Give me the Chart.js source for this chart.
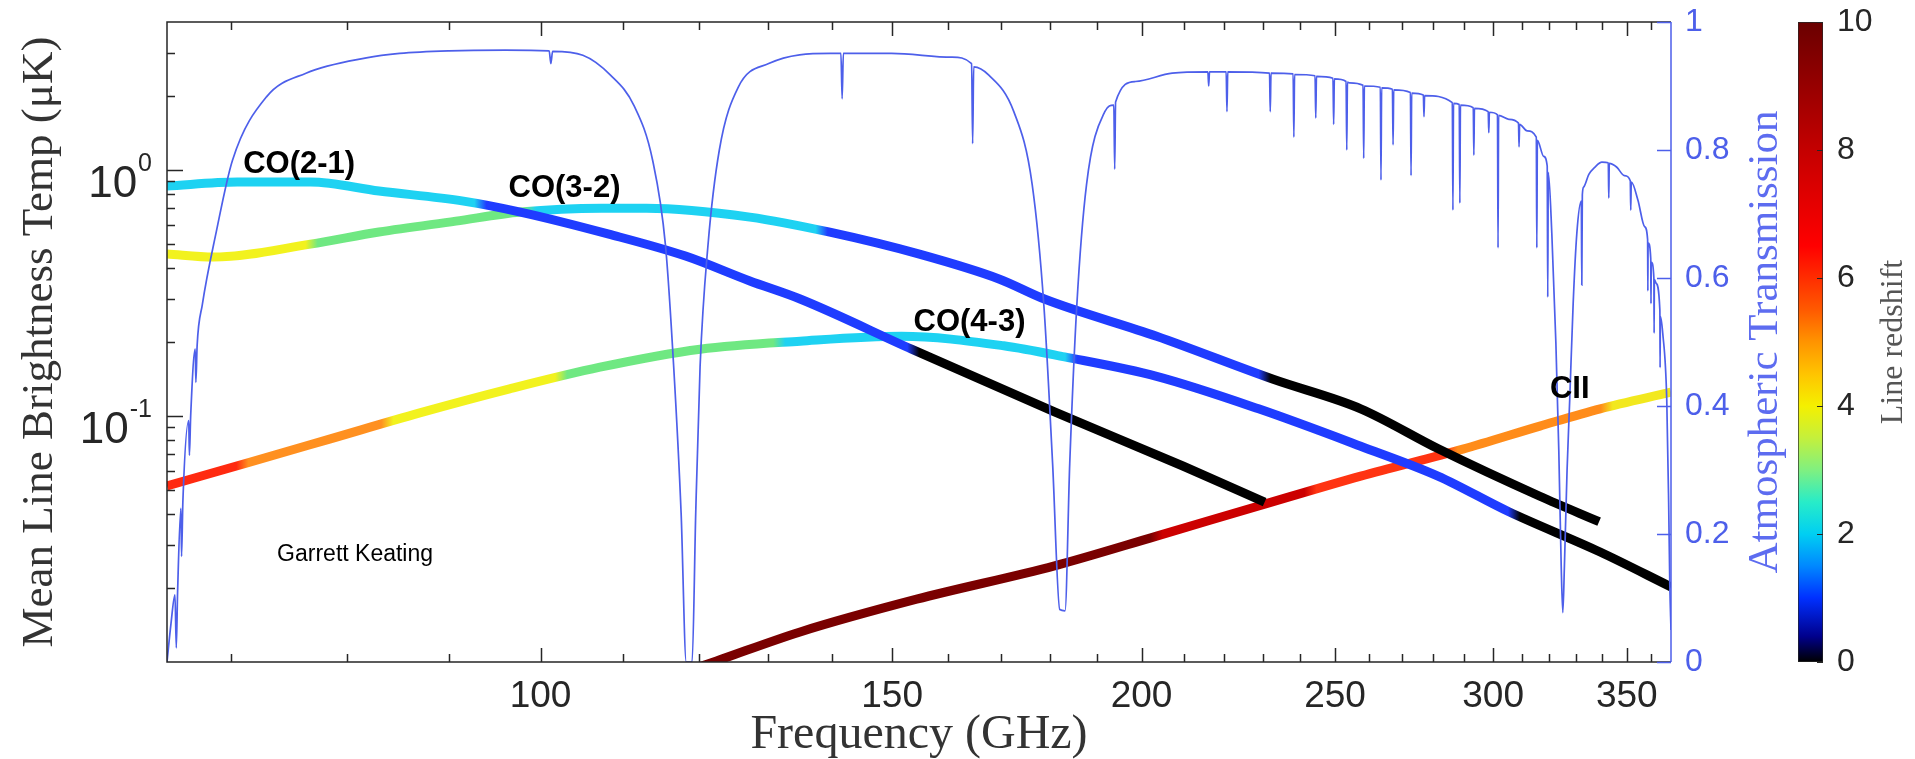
<!DOCTYPE html>
<html>
<head>
<meta charset="utf-8">
<script src="https://cdn.jsdelivr.net/npm/chart.js@4.4.1/dist/chart.umd.min.js"></script>
<style>
  html, body { margin: 0; padding: 0; background: #fff; overflow: hidden; }
  #wrap { position: relative; width: 1915px; height: 759px; }
  #main { position: absolute; left: 0; top: 0; }
  #cbar { position: absolute; left: 1760px; top: 0; }
</style>
</head>
<body>
<div id="wrap">
  <canvas id="main" width="1915" height="759"></canvas>
  <canvas id="cbar" width="155" height="759"></canvas>
</div>
<script>
// line brightness temperature (uK) against observed frequency (GHz)
const co21Freq = [65.0, 70.5, 76.7, 83.0, 91.5, 97.7, 108.2, 118.2, 127.3, 134.9, 153.4, 180.9, 209.9, 230.5];
const co21Temp = [0.861, 0.894, 0.894, 0.822, 0.748, 0.675, 0.549, 0.447, 0.354, 0.299, 0.187, 0.104, 0.0625, 0.0447];

const co32Freq = [65.0, 68.6, 76.7, 83.0, 90.7, 97.7, 107.3, 113.0, 127.3, 139.6, 154.8, 169.8, 178.8, 203.5, 232.8, 257.5, 281.6, 316.6, 339.0];
const co32Temp = [0.456, 0.443, 0.500, 0.560, 0.620, 0.675, 0.700, 0.700, 0.644, 0.559, 0.455, 0.360, 0.299, 0.211, 0.141, 0.107, 0.0736, 0.0472, 0.0372];

const co43Freq = [65.0, 71.5, 78.4, 87.0, 96.5, 107.1, 120.2, 134.9, 151.6, 170.6, 183.0, 203.5, 228.9, 257.5, 281.5, 305.5, 339.4, 368.3];
const co43Temp = [0.0520, 0.0649, 0.0806, 0.103, 0.129, 0.158, 0.187, 0.2016, 0.211, 0.193, 0.174, 0.145, 0.107, 0.0754, 0.0570, 0.0408, 0.0280, 0.0202];

const ciiFreq = [118.0, 122.5, 134.9, 154.3, 180.9, 203.5, 228.9, 257.5, 289.7, 316.6, 339.4, 368.3];
const ciiTemp = [0.0091, 0.0101, 0.01325, 0.0180, 0.0246, 0.0325, 0.0431, 0.0570, 0.0734, 0.091, 0.107, 0.125];

// colour bands along each line (redshift bins), break frequencies in GHz
const co21Breaks = [93.3, 153.7];
const co21Colors = ['#1ed2f2', '#1f3cff', '#000000'];
const co32Breaks = [76.8, 98.8, 138.3, 230.5];
const co32Colors = ['#f2f21e', '#6fe882', '#1ed2f2', '#1f3cff', '#000000'];
const co43Breaks = [70.9, 83.8, 102.4, 131.7, 184.4, 307.3];
const co43Colors = ['#ff2a10', '#ff9020', '#f2f21e', '#6fe882', '#1ed2f2', '#1f3cff', '#000000'];
const ciiBreaks = [203.5, 243.0, 286.0, 342.0];
const ciiColors = ['#7a0000', '#cc0000', '#ff3412', '#ff8c1a', '#f2e81e'];

// atmospheric transmission
const transFreq = [65.0, 65.3, 65.6, 65.7, 65.8, 66.05, 66.1, 66.2, 66.65, 66.7, 66.8, 67.15, 67.2, 67.3, 67.7, 68.8, 70.1, 72.9, 76.3, 81.8, 85.0, 90.0, 96.0, 101.0, 101.2, 101.4, 105.0, 108.4, 111.4, 113.8, 115.5, 116.6, 117.6, 118.3, 119.1, 119.6, 120.2, 121.3, 122.9, 125.6, 130.1, 139.7, 141.4, 141.6, 141.8, 149.9, 160.7, 164.4, 164.6, 164.8, 167.7, 172.6, 176.3, 178.7, 180.5, 182.0, 183.1, 184.1, 185.6, 187.7, 191.7, 193.7, 193.9, 194.1, 198.6, 207.2, 215.9, 216.1, 216.3, 220.5, 220.7, 220.9, 231.8, 232.0, 232.2, 238.2, 238.4, 238.6, 244.3, 244.5, 244.7, 249.4, 249.6, 249.8, 253.2, 253.4, 253.6, 254.2, 258.2, 258.4, 258.6, 263.4, 263.6, 263.8, 267.1, 267.3, 267.5, 272.7, 272.9, 273.1, 276.8, 277.0, 277.2, 286.2, 286.4, 286.6, 288.5, 288.7, 288.9, 293.2, 293.4, 293.6, 298.3, 298.5, 298.7, 301.5, 301.7, 301.9, 305.5, 308.9, 309.1, 309.3, 312.0, 315.3, 315.5, 315.7, 318.0, 319.3, 319.5, 319.7, 321.0, 322.5, 323.6, 324.5, 325.1, 325.7, 326.7, 327.7, 329.0, 330.4, 332.1, 332.3, 332.5, 333.0, 335.0, 337.3, 340.1, 342.6, 342.8, 343.0, 346.0, 349.0, 351.4, 351.6, 351.8, 354.5, 357.3, 358.5, 358.6, 358.7, 359.8, 359.9, 360.0, 361.1, 361.2, 361.3, 362.0, 363.6, 363.7, 363.8, 364.8, 366.5, 367.3, 367.8, 368.3];
const transVal = [0.0, 0.06, 0.105, 0.022, 0.11, 0.24, 0.165, 0.25, 0.377, 0.323, 0.385, 0.489, 0.437, 0.495, 0.558, 0.672, 0.784, 0.883, 0.920, 0.944, 0.951, 0.955, 0.956, 0.955, 0.935, 0.954, 0.948, 0.917, 0.869, 0.784, 0.651, 0.461, 0.233, 0.0, 0.0, 0.233, 0.461, 0.651, 0.80, 0.898, 0.935, 0.951, 0.951, 0.88, 0.951, 0.951, 0.945, 0.935, 0.81, 0.93, 0.917, 0.86, 0.746, 0.556, 0.31, 0.082, 0.08, 0.31, 0.556, 0.746, 0.86, 0.87, 0.77, 0.875, 0.907, 0.92, 0.922, 0.90, 0.922, 0.922, 0.86, 0.922, 0.92, 0.86, 0.92, 0.919, 0.82, 0.918, 0.916, 0.85, 0.915, 0.912, 0.84, 0.911, 0.907, 0.80, 0.906, 0.905, 0.901, 0.787, 0.900, 0.898, 0.753, 0.897, 0.895, 0.808, 0.894, 0.89, 0.76, 0.889, 0.886, 0.852, 0.885, 0.874, 0.706, 0.873, 0.871, 0.717, 0.870, 0.866, 0.792, 0.865, 0.860, 0.827, 0.859, 0.855, 0.647, 0.854, 0.848, 0.842, 0.805, 0.840, 0.830, 0.820, 0.647, 0.815, 0.79, 0.775, 0.57, 0.765, 0.67, 0.50, 0.33, 0.15, 0.077, 0.15, 0.30, 0.41, 0.56, 0.67, 0.72, 0.589, 0.73, 0.742, 0.762, 0.773, 0.781, 0.78, 0.725, 0.779, 0.773, 0.76, 0.752, 0.706, 0.75, 0.722, 0.68, 0.66, 0.58, 0.655, 0.63, 0.56, 0.625, 0.60, 0.514, 0.598, 0.592, 0.55, 0.46, 0.54, 0.514, 0.41, 0.25, 0.12, 0.05];

// axis ticks
const xTickValues = [70, 80, 90, 100, 110, 120, 130, 140, 150, 160, 170, 180, 190, 200, 210, 220, 230, 240, 250, 260, 270, 280, 290, 300, 310, 320, 330, 340, 350, 360];
const xLabelValues = [100, 150, 200, 250, 300, 350];
const yTickValues = [0.02, 0.03, 0.04, 0.05, 0.06, 0.07, 0.08, 0.09, 0.1, 0.2, 0.3, 0.4, 0.5, 0.6, 0.7, 0.8, 0.9, 1, 2, 3];
const yLabelValues = [0.1, 1];
const yLabelExp = ['-1', '0'];
const transTicks = [0, 0.2, 0.4, 0.6, 0.8, 1];
const zTicks = [0, 2, 4, 6, 8, 10];

// colour bar (redshift colour map)
const cmapZ = [0, 0.4, 1, 1.5, 2, 2.5, 3, 3.5, 4, 4.5, 5, 5.5, 6.5, 8, 10];
const cmapColors = ['#000000', '#00008c', '#0030ff', '#0088ff', '#00cff2', '#28ecc8', '#80f080', '#c4f03c', '#f4f000', '#ffc400', '#ff9400', '#ff5a00', '#ff0000', '#c40000', '#6a0000'];

// annotations
const noteText = ['CO(2-1)', 'CO(3-2)', 'CO(4-3)', 'CII'];
const noteFreq = [75.7, 102.8, 164.0, 327.7];
const noteTemp = [1.058, 0.845, 0.24, 0.128];

const SANS = "'Liberation Sans', Arial, Helvetica, sans-serif";
const SERIF = "'Liberation Serif', 'Times New Roman', serif";
const INK = '#262626';
const BLUE = '#4d5fea';

function pts(xs, ys) {
  return xs.map((x, i) => ({ x: x, y: ys[i] }));
}

function bandGradient(chart, breaks, colors) {
  const area = chart.chartArea;
  if (!area) return colors[0];
  const xs = chart.scales.x;
  const w = area.right - area.left;
  const g = chart.ctx.createLinearGradient(area.left, 0, area.right, 0);
  const clamp = (f) => Math.min(1, Math.max(0, f));
  g.addColorStop(0, colors[0]);
  breaks.forEach((b, i) => {
    const f = (xs.getPixelForValue(b) - area.left) / w;
    g.addColorStop(clamp(f - 0.004), colors[i]);
    g.addColorStop(clamp(f + 0.004), colors[i + 1]);
  });
  g.addColorStop(1, colors[colors.length - 1]);
  return g;
}

function coLine(label, xs, ys, breaks, colors) {
  return {
    label: label,
    data: pts(xs, ys),
    yAxisID: 'y',
    borderColor: (c) => bandGradient(c.chart, breaks, colors),
    borderWidth: 9,
    borderCapStyle: 'butt',
    borderJoinStyle: 'round',
    pointRadius: 0,
    cubicInterpolationMode: 'monotone',
    clip: 0
  };
}

// keep vertical axes from pushing the plot area down for their end labels
function noEndPadding(s) {
  s.paddingTop = 0;
  s.paddingBottom = 0;
}

const frameTicks = {
  id: 'frameTicks',
  afterDatasetsDraw(chart) {
    const { ctx, scales } = chart;
    ctx.save();
    ctx.fillStyle = '#000';
    ctx.font = 'bold 31px ' + SANS;
    ctx.textAlign = 'center';
    ctx.textBaseline = 'middle';
    noteText.forEach((t, i) => {
      ctx.fillText(t, scales.x.getPixelForValue(noteFreq[i]), scales.y.getPixelForValue(noteTemp[i]));
    });
    ctx.font = '23px ' + SANS;
    ctx.textAlign = 'left';
    ctx.fillText('Garrett Keating', scales.x.getPixelForValue(73.8), scales.y.getPixelForValue(0.0272));
    ctx.restore();
  },
  afterDraw(chart) {
    const { ctx, chartArea: a, scales } = chart;
    ctx.save();
    ctx.lineWidth = 1.5;
    ctx.strokeStyle = INK;
    ctx.beginPath();
    ctx.moveTo(a.right, a.top);
    ctx.lineTo(a.left, a.top);
    ctx.lineTo(a.left, a.bottom);
    ctx.lineTo(a.right, a.bottom);
    ctx.stroke();
    ctx.beginPath();
    xTickValues.forEach((v) => {
      const x = Math.round(scales.x.getPixelForValue(v)) + 0.5;
      const len = xLabelValues.includes(v) ? 14 : 8;
      ctx.moveTo(x, a.bottom);
      ctx.lineTo(x, a.bottom - len);
      ctx.moveTo(x, a.top);
      ctx.lineTo(x, a.top + len);
    });
    yTickValues.forEach((v) => {
      const y = Math.round(scales.y.getPixelForValue(v)) + 0.5;
      const len = yLabelValues.includes(v) ? 16 : 8;
      ctx.moveTo(a.left, y);
      ctx.lineTo(a.left + len, y);
    });
    ctx.stroke();

    // decade labels on the log axis: base 10 with a raised exponent
    ctx.fillStyle = INK;
    ctx.textAlign = 'right';
    ctx.textBaseline = 'alphabetic';
    yLabelValues.forEach((v, i) => {
      const y = scales.y.getPixelForValue(v);
      const right = a.left - 15;
      ctx.font = '25px ' + SANS;
      const ew = ctx.measureText(yLabelExp[i]).width;
      ctx.fillText(yLabelExp[i], right, y + 1);
      ctx.font = '44px ' + SANS;
      ctx.fillText('10', right - ew - 1, y + 27);
    });

    ctx.strokeStyle = BLUE;
    ctx.beginPath();
    ctx.moveTo(a.right, a.top);
    ctx.lineTo(a.right, a.bottom);
    transTicks.forEach((v) => {
      const y = Math.round(scales.y2.getPixelForValue(v)) + 0.5;
      ctx.moveTo(a.right, y);
      ctx.lineTo(a.right - 14, y);
    });
    ctx.stroke();

    // right axis title reads bottom to top
    ctx.translate(1766, (a.top + a.bottom) / 2);
    ctx.rotate(-Math.PI / 2);
    ctx.fillStyle = '#5d6cf0';
    ctx.font = '43px ' + SERIF;
    ctx.textAlign = 'center';
    ctx.textBaseline = 'middle';
    ctx.fillText('Atmospheric Transmission', 0, 0);
    ctx.restore();
  }
};

new Chart(document.getElementById('main'), {
  type: 'line',
  data: {
    datasets: [
      {
        label: 'Atmospheric Transmission',
        data: pts(transFreq, transVal),
        yAxisID: 'y2',
        borderColor: BLUE,
        borderWidth: 1.7,
        pointRadius: 0,
        cubicInterpolationMode: 'monotone',
        clip: 0
      },
      coLine('CO(2-1)', co21Freq, co21Temp, co21Breaks, co21Colors),
      coLine('CO(3-2)', co32Freq, co32Temp, co32Breaks, co32Colors),
      coLine('CO(4-3)', co43Freq, co43Temp, co43Breaks, co43Colors),
      coLine('CII', ciiFreq, ciiTemp, ciiBreaks, ciiColors)
    ]
  },
  options: {
    responsive: false,
    animation: false,
    events: [],
    layout: { padding: { top: 22, left: 0, right: 0, bottom: 0 } },
    plugins: { legend: { display: false }, tooltip: { enabled: false } },
    scales: {
      x: {
        type: 'logarithmic',
        position: 'bottom',
        min: 65,
        max: 368.3,
        grid: { display: false, drawTicks: false },
        border: { display: false },
        afterBuildTicks: (s) => { s.ticks = xTickValues.map((v) => ({ value: v })); },
        afterFit: (s) => { s.height = 97; s.paddingLeft = 0; s.paddingRight = 0; },
        ticks: {
          autoSkip: false,
          maxRotation: 0,
          minRotation: 0,
          padding: 13,
          color: INK,
          font: { family: SANS, size: 37 },
          callback: (v) => (xLabelValues.includes(v) ? String(v) : '')
        },
        title: {
          display: true,
          text: 'Frequency (GHz)',
          color: '#333',
          font: { family: SERIF, size: 48, lineHeight: 1 },
          padding: { top: 0, bottom: 0 }
        }
      },
      y: {
        type: 'logarithmic',
        position: 'left',
        min: 0.01,
        max: 4,
        grid: { display: false, drawTicks: false },
        border: { display: false },
        afterBuildTicks: (s) => { s.ticks = yTickValues.map((v) => ({ value: v })); },
        afterFit: (s) => { s.width = 167; noEndPadding(s); },
        ticks: {
          autoSkip: false,
          callback: () => ''
        },
        title: {
          display: true,
          text: 'Mean Line Brightness Temp (\u03BCK)',
          color: '#333',
          font: { family: SERIF, size: 45 },
          padding: { top: 13, bottom: 0 }
        }
      },
      y2: {
        type: 'linear',
        position: 'right',
        min: 0,
        max: 1,
        grid: { display: false, drawTicks: false },
        border: { display: false },
        afterBuildTicks: (s) => { s.ticks = transTicks.map((v) => ({ value: v })); },
        afterFit: (s) => { s.width = 1915 - 1671; noEndPadding(s); },
        ticks: {
          padding: 14,
          color: BLUE,
          font: { family: SANS, size: 32 },
          callback: (v) => String(v)
        }
      }
    }
  },
  plugins: [frameTicks]
});

// colour bar as a single floating bar filled with the redshift colour map
function cmapGradient(chart) {
  const area = chart.chartArea;
  if (!area) return cmapColors[0];
  const ys = chart.scales.y;
  const g = chart.ctx.createLinearGradient(0, ys.getPixelForValue(0), 0, ys.getPixelForValue(10));
  cmapZ.forEach((z, i) => g.addColorStop(z / 10, cmapColors[i]));
  return g;
}

const cbarDecor = {
  id: 'cbarDecor',
  afterDraw(chart) {
    const { ctx, chartArea: a, scales } = chart;
    ctx.save();
    ctx.strokeStyle = INK;
    ctx.lineWidth = 1;
    ctx.beginPath();
    zTicks.forEach((v) => {
      const y = Math.round(scales.y.getPixelForValue(v)) + 0.5;
      ctx.moveTo(a.right, y);
      ctx.lineTo(a.right - 6, y);
    });
    ctx.stroke();
    ctx.translate(134, (a.top + a.bottom) / 2);
    ctx.rotate(-Math.PI / 2);
    ctx.fillStyle = '#555';
    ctx.font = '32px ' + SERIF;
    ctx.textAlign = 'center';
    ctx.textBaseline = 'middle';
    ctx.fillText('Line redshift', 0, 0);
    ctx.restore();
  }
};

new Chart(document.getElementById('cbar'), {
  type: 'bar',
  data: {
    labels: ['z'],
    datasets: [{
      data: [[0, 10]],
      backgroundColor: (c) => cmapGradient(c.chart),
      borderColor: INK,
      borderWidth: 1,
      borderSkipped: false,
      barPercentage: 1,
      categoryPercentage: 1
    }]
  },
  options: {
    responsive: false,
    animation: false,
    events: [],
    layout: { padding: { top: 22, left: 38, right: 0, bottom: 97 } },
    plugins: { legend: { display: false }, tooltip: { enabled: false } },
    scales: {
      x: { display: false },
      y: {
        position: 'right',
        min: 0,
        max: 10,
        grid: { display: false, drawTicks: false },
        border: { display: false },
        afterBuildTicks: (s) => { s.ticks = zTicks.map((v) => ({ value: v })); },
        afterFit: (s) => { s.width = 155 - 63; noEndPadding(s); },
        ticks: {
          padding: 14,
          color: INK,
          font: { family: SANS, size: 32 }
        }
      }
    }
  },
  plugins: [cbarDecor]
});
</script>
</body>
</html>
